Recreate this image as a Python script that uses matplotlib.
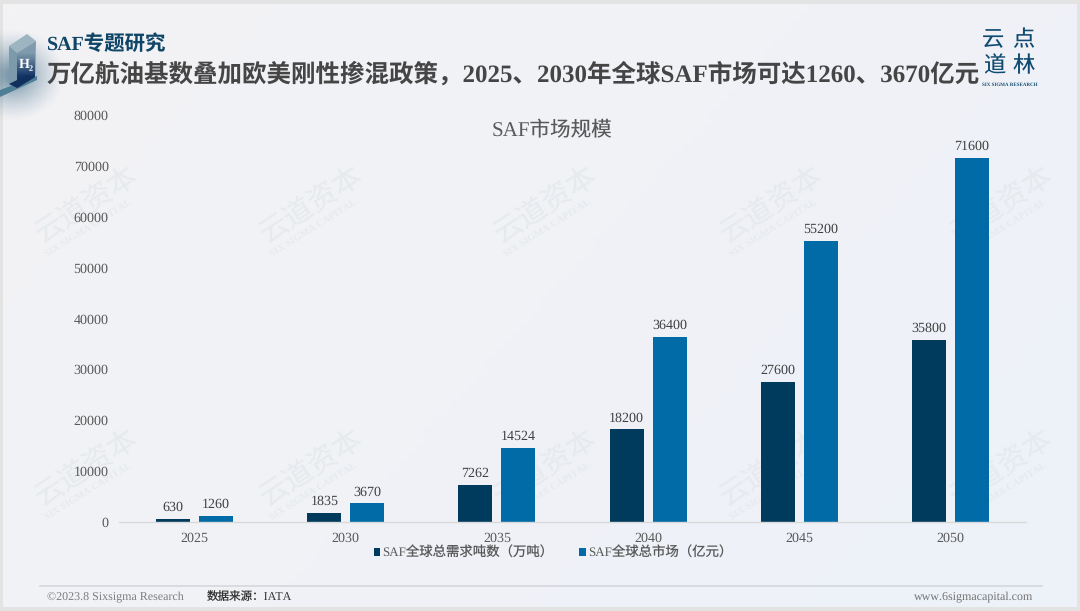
import numpy as np
import matplotlib
matplotlib.use('Agg')
import matplotlib.pyplot as plt
from matplotlib.patches import Polygon

plt.rcParams['font.family'] = ['Liberation Serif', 'Noto Sans CJK SC']
plt.rcParams['text.hinting'] = 'no_hinting'
plt.rcParams['text.hinting_factor'] = 1

# Data
years = ['2025', '2030', '2035', '2040', '2045', '2050']
demand = [630, 1835, 7262, 18200, 27600, 35800]
market = [1260, 3670, 14524, 36400, 55200, 71600]
demand_name = 'SAF全球总需求吨数（万吨）'
market_name = 'SAF全球总市场（亿元）'
yticks = [0, 10000, 20000, 30000, 40000, 50000, 60000, 70000, 80000]

dark = '#003a5c'
blue = '#006ba6'
grey = '#595959'

W, H = 1080, 611
fig = plt.figure(figsize=(W / 100, H / 100), dpi=100, facecolor='#e3e3e3')

# page layer in pixel coordinates
bg = fig.add_axes([0, 0, 1, 1], zorder=0)
bg.axis('off')
c1 = np.array([0xf3, 0xf3, 0xf5]) / 255
c2 = np.array([0xed, 0xf1, 0xf9]) / 255
xx, yy = np.meshgrid(np.linspace(0, 1, 120), np.linspace(0, 1, 70))
t = ((xx + yy * 0.5) / 1.5)[..., None]
bg.imshow(c1 + (c2 - c1) * t, extent=(3, 1077, 607, 4), aspect='auto', zorder=0)

# watermark
for wy in [205, 468]:
    for wx in [87, 312, 546, 772, 1002]:
        bg.text(wx, wy, '云道资本', fontsize=21, color='#e6eaed', rotation=33,
                ha='center', va='center', family='Noto Sans CJK SC', zorder=1)
        bg.text(wx + 1, wy + 23, 'SIX SIGMA CAPITAL', fontsize=7.5, color='#e6eaed', rotation=32,
                ha='center', va='center', weight='bold', zorder=1)

# logo block
glow = np.zeros((80, 80, 4))
glow[..., :3] = np.array([0x2f, 0x5f, 0x7c]) / 255
gx, gy = np.meshgrid(np.linspace(-1, 1, 80), np.linspace(-1, 1, 80))
glow[..., 3] = np.clip(1 - np.hypot(gx, gy), 0, 1) ** 1.3 * 0.7
bg.imshow(glow, extent=(-40, 66, 122, 28), aspect='auto', zorder=2)
bg.add_patch(Polygon([[0, 90], [0, 97], [37, 80], [37, 76]], color='#4f7f97', lw=0, zorder=3))
bg.add_patch(Polygon([[9, 46], [27, 34], [36, 41], [17, 53]], color='#9db4c1', lw=0, zorder=4))
bg.add_patch(Polygon([[9, 46], [17, 53], [17, 88], [9, 84]], color='#7d9aab', lw=0, zorder=4))
front = Polygon([[17, 53], [36, 41], [35, 77], [17, 88]], color='none', lw=0, zorder=4)
bg.add_patch(front)
grad = np.array([[[0x7f, 0x9b, 0xad]], [[0x12, 0x35, 0x66]]]) / 255
im = bg.imshow(grad, extent=(17, 36, 88, 41), aspect='auto', zorder=4, interpolation='bilinear')
im.set_clip_path(front)
bg.add_patch(Polygon([[9, 84], [17, 88], [35, 77], [27, 75]], color='#12305e', lw=0, zorder=5))
bg.text(26, 64, 'H₂', color='white', fontsize=10, weight='bold', ha='center', va='center',
        family=['Liberation Serif', 'DejaVu Sans'], zorder=5)

# headings
bg.text(47, 44, 'SAF专题研究', fontsize=14.7, color='#0f4566', weight='bold', va='center', zorder=5)
bg.text(47, 75, '万亿航油基数叠加欧美刚性掺混政策，2025、2030年全球SAF市场可达1260、3670亿元',
        fontsize=17.65, color='#454545', weight='bold', va='center', zorder=5)

# brand mark
for lx, ly, s in [(993, 41, '云'), (1023, 41, '点'), (994, 67, '道'), (1024, 67, '林')]:
    bg.text(lx, ly, s, fontsize=16, color='#0f4a70', ha='center', va='center', zorder=5)
bg.text(1010, 85, 'SIX SIGMA RESEARCH', fontsize=3.8, color='#164f73', ha='center', va='center',
        weight='bold', zorder=5)

# footer
bg.plot([40, 1042], [586, 586], color='#d5d7dc', lw=1.2, zorder=2)
bg.text(47, 597, '©2023.8 Sixsigma Research', fontsize=8.9, color='#7d7d7d', va='center', zorder=5)
bg.text(207, 597, '数据来源：IATA', fontsize=8.3, color='#333333', va='center', zorder=5)
bg.text(1033, 597, 'www.6sigmacapital.com', fontsize=8.8, color='#737373', va='center', ha='right', zorder=5)

bg.set_xlim(0, W)
bg.set_ylim(H, 0)

# chart
ax = fig.add_axes([119 / W, 1 - 522 / H, (1026 - 119) / W, (522 - 115) / H], zorder=2)
ax.patch.set_alpha(0)
x = np.arange(len(years))
bw = 0.225
off = 0.142
b1 = ax.bar(x - off, demand, bw, color=dark, label=demand_name)
b2 = ax.bar(x + off, market, bw, color=blue, label=market_name)
for bars, vals in [(b1, demand), (b2, market)]:
    for b, v in zip(bars, vals):
        ax.annotate(str(v), (b.get_x() + b.get_width() / 2, v), xytext=(0, 3.5),
                    textcoords='offset points', ha='center', va='bottom',
                    fontsize=9.8, color='#404040')
ax.set_xlim(-0.5, 5.5)
ax.set_ylim(0, 80000)
ax.set_xticks(x)
ax.set_xticklabels(years)
ax.set_yticks(yticks)
ax.tick_params(axis='both', length=0, labelsize=9.8, labelcolor=grey)
ax.tick_params(axis='x', pad=7.5)
ax.tick_params(axis='y', pad=7.5)
for s in ['top', 'right', 'left']:
    ax.spines[s].set_visible(False)
ax.spines['bottom'].set_color('#d9d9d9')
ax.spines['bottom'].set_linewidth(1)

fig.text(552 / W, 1 - 131 / H, 'SAF市场规模', fontsize=14.8, color=grey, ha='center', va='center')
ax.legend(loc='center', bbox_to_anchor=((553 - 119) / (1026 - 119), (522 - 553) / (522 - 115)),
          ncol=2, frameon=False, fontsize=9.65, labelcolor=grey, handlelength=0.5, handleheight=0.5,
          handletextpad=0.15, columnspacing=1.9, borderpad=0)

fig.savefig('out.png', dpi=100, facecolor=fig.get_facecolor())
